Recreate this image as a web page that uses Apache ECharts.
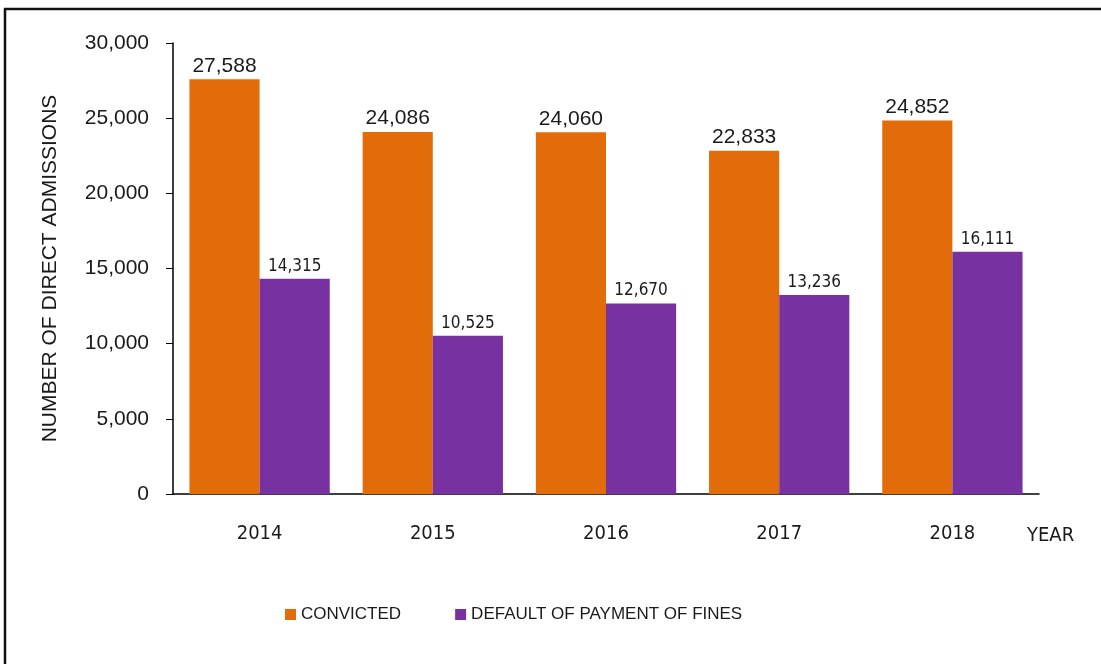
<!DOCTYPE html>
<html>
<head>
<meta charset="utf-8">
<script src="https://cdn.jsdelivr.net/npm/echarts@6/dist/echarts.min.js"></script>
<style>
  html, body { margin: 0; padding: 0; background: #fff; }
  #chart { width: 1101px; height: 664px; }
</style>
</head>
<body>
<div id="chart"></div>
<script>
var years = ['2014', '2015', '2016', '2017', '2018'];
var convicted = [27588, 24086, 24060, 22833, 24852];
var defaultFines = [14315, 10525, 12670, 13236, 16111];

var font = '"Liberation Sans", Arial, sans-serif';
var condensed = '"DejaVu Sans Condensed", "Liberation Sans", sans-serif';

function fmt(v) {
    return v.toLocaleString('en-US');
}

var chart = echarts.init(document.getElementById('chart'));
var option = {
    textStyle: { fontFamily: font, color: '#1a1a1a' },
    animation: false,
    graphic: [{
        type: 'line',
        shape: { x1: 4, y1: 9, x2: 1101, y2: 9 },
        style: { stroke: '#111', lineWidth: 2.5 }
    }, {
        type: 'line',
        shape: { x1: 5, y1: 8, x2: 5, y2: 664 },
        style: { stroke: '#111', lineWidth: 2.5 }
    }, {
        type: 'text',
        left: 1027,
        top: 526,
        style: { text: 'YEAR', fontFamily: condensed, fontSize: 20, fill: '#1a1a1a' }
    }],
    grid: { left: 173, right: 62, top: 43, bottom: 170 },
    legend: {
        top: 601,
        left: 280,
        itemWidth: 11,
        itemHeight: 11,
        itemGap: 54,
        icon: 'rect',
        textStyle: { fontFamily: font, fontSize: 17, color: '#1a1a1a' },
        data: ['CONVICTED', 'DEFAULT OF PAYMENT OF FINES']
    },
    xAxis: {
        type: 'category',
        data: years,
        axisLine: { lineStyle: { color: '#000', width: 1.5 } },
        axisTick: { show: false },
        axisLabel: { fontSize: 20, color: '#1a1a1a', margin: 30, fontFamily: condensed }
    },
    yAxis: {
        type: 'value',
        min: 0,
        max: 30000,
        interval: 5000,
        name: 'NUMBER OF DIRECT ADMISSIONS',
        nameLocation: 'middle',
        nameGap: 112,
        nameTextStyle: { fontFamily: font, fontSize: 21, color: '#1a1a1a' },
        axisLine: { show: true, lineStyle: { color: '#000', width: 1.5 } },
        axisTick: { show: true, length: 7, lineStyle: { color: '#000' } },
        splitLine: { show: false },
        axisLabel: {
            fontSize: 21,
            color: '#1a1a1a',
            margin: 24,
            formatter: function (v) { return fmt(v); }
        }
    },
    series: [{
        name: 'CONVICTED',
        type: 'bar',
        data: convicted,
        barGap: '0%',
        barCategoryGap: '19%',
        itemStyle: { color: '#E36C0A' },
        label: {
            show: true,
            position: 'top',
            distance: 3,
            fontSize: 21,
            fontFamily: font,
            color: '#1a1a1a',
            formatter: function (p) { return fmt(p.value); }
        }
    }, {
        name: 'DEFAULT OF PAYMENT OF FINES',
        type: 'bar',
        data: defaultFines,
        itemStyle: { color: '#7731A0' },
        label: {
            show: true,
            position: 'top',
            distance: 4,
            fontSize: 17,
            fontFamily: condensed,
            color: '#1a1a1a',
            formatter: function (p) { return fmt(p.value); }
        }
    }]
};
chart.setOption(option);
</script>
</body>
</html>
